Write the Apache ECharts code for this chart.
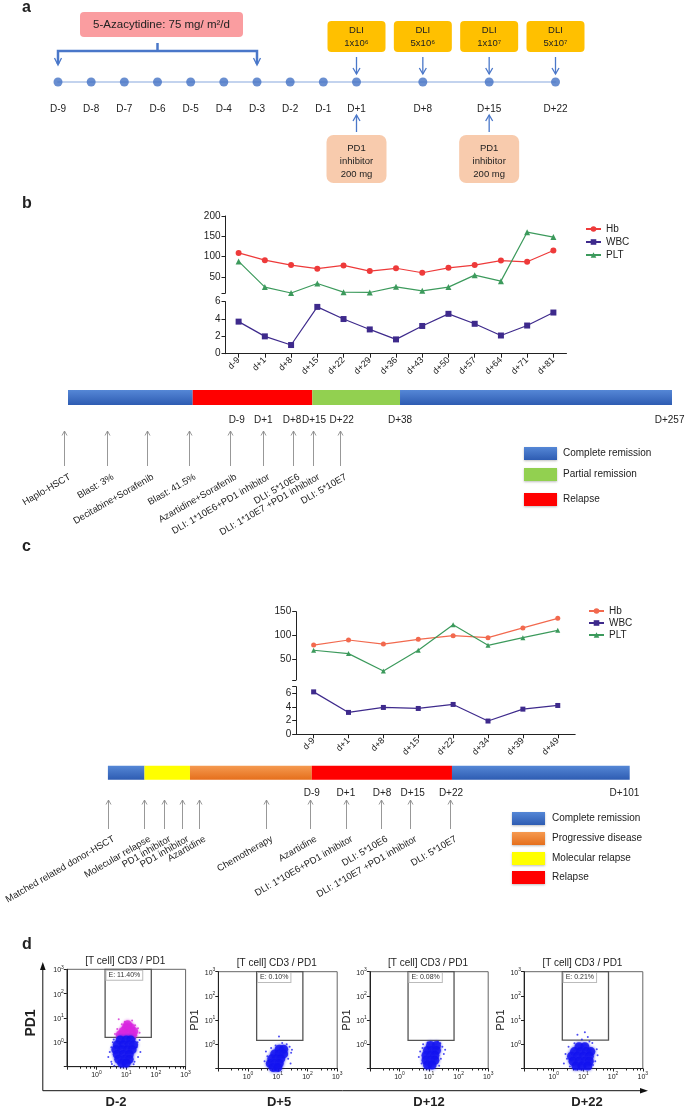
<!DOCTYPE html>
<html><head><meta charset="utf-8">
<script src="https://cdn.jsdelivr.net/npm/echarts@6/dist/echarts.min.js"></script>
<style>html,body{margin:0;padding:0;background:#fff}#c{width:685px;height:1107px}</style>
</head><body><div id="c"></div>
<script>
// ================= DATA =================
// panel a : schedule (spacer categories keep the drawn spacing)
const aDays = ['D-9','D-8','D-7','D-6','D-5','D-4','D-3','D-2','D-1','D+1',' ','D+8','  ','D+15','   ','D+22'];
const aDots = [0,0,0,0,0,0,0,0,0,0,'-',0,'-',0,'-',0];
const aAzaSpan = ['D-9','D-3'];
const aAzaText = '5-Azacytidine: 75 mg/ m²/d';
const aDLI = [['D+1','1x10⁶'],['D+8','5x10⁶'],['D+15','1x10⁷'],['D+22','5x10⁷']];
const aPD1 = ['D+1','D+15'];

// panel b : blood counts
const bDays = ['d-9','d+1','d+8','d+15','d+22','d+29','d+36','d+43','d+50','d+57','d+64','d+71','d+81'];
const bHb  = [109, 91, 79, 70, 78, 64, 71, 60, 72, 79, 90, 87, 115];
const bWBC = [3.7, 2.0, 1.0, 5.4, 4.0, 2.8, 1.65, 3.2, 4.6, 3.45, 2.1, 3.25, 4.75];
const bPLT = [88, 24.5, 10, 33.5, 12, 11.3, 25.3, 15.4, 24.5, 54, 39.3, 160, 148];
// panel b : disease course (schematic units, 0-100)
const bSegments = [['Complete remission',20.65],['Relapse',19.80],['Partial remission',14.52],['Complete remission',45.03]];
const bDates = [[27.93,'D-9'],[32.33,'D+1'],[37.09,'D+8'],[40.73,'D+15'],[45.31,'D+22'],[54.97,'D+38'],[99.6,'D+257']];
const bEvents = [[-0.61,'Haplo-HSCT'],[6.41,'Blast: 3%'],[13.08,'Decitabine+Sorafenib'],[19.98,'Blast: 41.5%'],[26.82,'Azartidine+Sorafenib'],[32.34,'DLI: 1*10E6+PD1 inhibitor'],[37.20,'DLI: 5*10E6'],[40.56,'DLI: 1*10E7 +PD1 inhibitor'],[45.03,'DLI: 5*10E7']];
const bStatusLegend = ['Complete remission','Partial remission','Relapse'];

// panel c : blood counts
const cDays = ['d-9','d+1','d+8','d+15','d+22','d+34','d+39','d+49'];
const cHb  = [80, 90.6, 82, 92, 99.6, 95.5, 116, 136];
const cWBC = [6.24, 3.22, 3.95, 3.8, 4.39, 1.95, 3.7, 4.24];
const cPLT = [69, 62, 25.5, 69, 122.7, 79.4, 95.5, 110.8];
// panel c : disease course
const cSegments = [['Complete remission',7.01],['Molecular relapse',8.72],['Progressive disease',23.34],['Relapse',26.87],['Complete remission',34.06]];
const cDates = [[39.08,'D-9'],[45.61,'D+1'],[52.53,'D+8'],[58.41,'D+15'],[65.75,'D+22'],[99.0,'D+101']];
const cEvents = [[0,'Matched related donor-HSCT'],[7.01,'Molecular relapse'],[10.79,'PD1 inhibitor'],[14.14,'PD1 inhibitor'],[17.40,'Azartidine'],[30.38,'Chemotherapy'],[38.66,'Azartidine'],[45.69,'DLI: 1*10E6+PD1 inhibitor'],[52.30,'DLI: 5*10E6'],[57.99,'DLI: 1*10E7 +PD1 inhibitor'],[65.52,'DLI: 5*10E7']];
const cStatusLegend = ['Complete remission','Progressive disease','Molecular relapse','Relapse'];

// panel d : flow cytometry (CD3 x, PD1 y)
const dTitles = ['[T cell] CD3 / PD1','[T cell] CD3 / PD1','[T cell] CD3 / PD1','[T cell] CD3 / PD1'];
const dDays = ['D-2','D+5','D+12','D+22'];
const dGateText = ['E: 11.40%','E: 0.10%','E: 0.08%','E: 0.21%'];
const dGate = [[1.95,70,1.6,1000],[1.95,70,1.45,1000],[1.95,70,1.45,1000],[1.95,70,1.5,1000]];
const dBlueCore = [
 [[6.3,1.26],[10,1.26],[14.1,1.26],[5,0.79],[7.9,0.79],[12.6,0.79],[17.8,0.79],[4.47,0.5],[7.1,0.5],[11.2,0.5],[15.8,0.5],[5,0.32],[7.9,0.32],[12.6,0.32],[5.6,0.2],[8.9,0.2],[12.6,0.2],[7.1,0.14],[10,0.14]],
 [[11.2,0.63],[15.8,0.63],[7.9,0.4],[11.2,0.4],[15.8,0.4],[6.3,0.25],[8.9,0.25],[12.6,0.25],[5.6,0.16],[7.9,0.16],[11.2,0.16],[7.1,0.11],[10,0.11]],
 [[11.2,0.89],[17.8,0.89],[8.9,0.56],[12.6,0.56],[17.8,0.56],[7.9,0.35],[11.2,0.35],[15.8,0.35],[7.9,0.22],[11.2,0.22],[15.8,0.22],[8.9,0.14],[12.6,0.14]],
 [[7.1,0.79],[11.2,0.79],[5,0.5],[7.9,0.5],[12.6,0.5],[17.8,0.5],[4,0.32],[6.3,0.32],[10,0.32],[15.8,0.32],[4.47,0.2],[7.1,0.2],[11.2,0.2],[15.8,0.2],[5.6,0.126],[8.9,0.126],[14.1,0.126]]
];
const dBlueSparse = [
 [[2.8,0.4],[3.16,0.16],[3.55,1.0],[22.4,0.63],[25.1,0.25],[20,1.41],[4.0,0.11],[17.8,0.126],[3.16,0.63],[28.2,1.26],[2.5,0.25],[3.8,1.3],[24,1.0],[30,0.4],[19,0.16],[3.3,0.13]],
 [[4.47,0.32],[25.1,0.79],[22.4,0.25],[5,0.126],[14.1,1.12],[4,0.5],[28.2,0.45],[11,2.1],[3.6,0.2],[20,1.0],[6,0.7],[27,0.16],[8.5,0.9],[30,0.6]],
 [[5,0.5],[28.2,0.79],[25.1,0.25],[5.6,0.16],[20,1.26],[6.3,1.0],[31.6,0.4],[4.5,0.3],[9,1.2],[24,1.1],[35,0.6],[22,0.13],[6,0.7]],
 [[2.5,0.4],[2.2,0.16],[28.2,0.63],[25.1,0.2],[8.9,1.58],[14.1,2.0],[3.16,0.79],[20,1.12],[6.3,2.5],[11.2,3.16],[2.8,0.25],[30,0.35],[5,1.1],[16,1.3],[21,0.14],[3.5,0.12]]
];
const dMagCore = [[6.3,2.0],[10,2.0],[15.8,2.0],[7.9,2.82],[12.6,2.82],[17.8,2.82],[10,4.0],[14.1,4.0],[11.2,5.25]];
const dMagSparse = [[5.6,8.9],[20,5.0],[5,3.55],[28.2,2.5],[15.8,7.9],[7.1,5.6],[4.2,2.2],[25,3.8],[9,7.0],[22,1.9]];

// ================= CHART =================
const FONT = '"Liberation Sans", Arial, Helvetica, sans-serif';
const INK = '#222';
const chart = echarts.init(document.getElementById('c'));
const LG = echarts.graphic.LinearGradient;
const statusColor = {
  'Complete remission': new LG(0,0,0,1,[{offset:0,color:'#5587D6'},{offset:1,color:'#2E5CB2'}]),
  'Partial remission': '#92D050',
  'Relapse': '#FF0000',
  'Progressive disease': new LG(0,0,0,1,[{offset:0,color:'#F59A50'},{offset:1,color:'#E56F1C'}]),
  'Molecular relapse': '#FFFF00'
};

const grids = [
  {left:58, right:129.5, top:70, height:24},
  {left:225.5, right:118.5, top:216, height:77},
  {left:225.5, right:118.5, top:301.7, height:52},
  {left:296.2, right:109.8, top:611.7, height:68.1},
  {left:296.2, right:109.8, top:686.7, height:47.6},
  {left:68, right:13, top:390, height:15},
  {left:107.9, right:55.3, top:765.7, height:14},
  {left:66.8, top:969.3, width:118.8, height:97.4, show:true, borderColor:'#666', borderWidth:1},
  {left:218.3, top:971.7, width:118.9, height:96.8, show:true, borderColor:'#666', borderWidth:1},
  {left:369.9, top:971.7, width:118.3, height:96.8, show:true, borderColor:'#666', borderWidth:1},
  {left:524, top:971.7, width:118.8, height:96.8, show:true, borderColor:'#666', borderWidth:1}
];

const supFmt = v => { const e = Math.round(Math.log10(v)); return e < 0 ? '' : '{b|10}{s|' + e + '}'; };
const supRich = {b:{fontSize:7, lineHeight:9, verticalAlign:'bottom', color:INK}, s:{fontSize:5, lineHeight:5, verticalAlign:'top', color:INK}};
const lineAxis = {show:true, lineStyle:{color:INK, width:1}};
const tickSt = {color:INK, width:1};

function catX(gi, data, showIt) {
  if (!showIt) return {gridIndex:gi, type:'category', data, show:false};
  return {gridIndex:gi, type:'category', data, axisLine:lineAxis,
    axisTick:{show:true, alignWithLabel:true, length:4, lineStyle:tickSt},
    axisLabel:{rotate:45, fontSize:9, color:INK, margin:5, interval:0, fontFamily:FONT}};
}
function valY(gi, min, max, labels, ticks) {
  return {gridIndex:gi, type:'value', min, max, axisLine:lineAxis,
    axisTick:{show:true, length:4, lineStyle:tickSt, customValues:ticks},
    axisLabel:{fontSize:10, color:INK, margin:5, fontFamily:FONT, customValues:labels},
    splitLine:{show:false}};
}
function logAx(gi, isY, name) {
  const a = {gridIndex:gi, type:'log', logBase:10, min:0.1, max:1000,
    axisLine:lineAxis, axisTick:{show:true, length:3, lineStyle:tickSt},
    minorTick:{show:!isY, length:2, lineStyle:tickSt},
    axisLabel:{margin:3, formatter:supFmt, rich:supRich, fontFamily:FONT},
    splitLine:{show:false}, minorSplitLine:{show:false}};
  if (name) { a.name = name; a.nameLocation = 'middle'; a.nameGap = 17; a.nameTextStyle = {fontSize:11, color:INK, fontFamily:FONT}; }
  return a;
}

const xAxis = [
  {gridIndex:0, type:'category', data:aDays, boundaryGap:false,
   axisLine:{show:true, lineStyle:{color:'#C3D3EE', width:2}}, axisTick:{show:false},
   axisLabel:{fontSize:10, color:INK, margin:10, interval:0, fontFamily:FONT}},
  catX(1, bDays, false), catX(2, bDays, true),
  catX(3, cDays, false), catX(4, cDays, true),
  {gridIndex:5, type:'value', min:0, max:100, show:false},
  {gridIndex:6, type:'value', min:0, max:100, show:false},
  logAx(7,false), logAx(8,false), logAx(9,false), logAx(10,false)
];
const yAxis = [
  {gridIndex:0, type:'value', min:-1, max:1, show:false},
  valY(1, 10, 200, [50,100,150,200], [10,50,100,150,200]),
  valY(2, 0, 6, [0,2,4,6], [0,2,4,6]),
  valY(3, 7, 150, [50,100,150], [7,50,100,150]),
  valY(4, 0, 7, [0,2,4,6], [0,2,4,6,7]),
  {gridIndex:5, type:'category', data:['b'], show:false},
  {gridIndex:6, type:'category', data:['c'], show:false},
  logAx(7,true), logAx(8,true,'PD1'), logAx(9,true,'PD1'), logAx(10,true,'PD1')
];

function lineSeries(name, data, xi, yi, color, symbol, size) {
  return {type:'line', name, data, xAxisIndex:xi, yAxisIndex:yi, symbol, symbolSize:size,
    lineStyle:{color, width:1.2}, itemStyle:{color}, silent:true};
}
const series = [
  {type:'scatter', data:aDots, xAxisIndex:0, yAxisIndex:0, symbolSize:9, itemStyle:{color:'#4472C4'}, silent:true},
  lineSeries('Hb', bHb, 1, 1, '#EE3A3A', 'circle', 6),
  lineSeries('PLT', bPLT, 1, 1, '#3C9A5C', 'triangle', 6),
  lineSeries('WBC', bWBC, 2, 2, '#3E2A8C', 'rect', 6),
  lineSeries('Hb ', cHb, 3, 3, '#F2694E', 'circle', 5),
  lineSeries('PLT ', cPLT, 3, 3, '#3C9A5C', 'triangle', 5),
  lineSeries('WBC ', cWBC, 4, 4, '#3E2A8C', 'rect', 5)
];
bSegments.forEach(s => series.push({type:'bar', stack:'bt', xAxisIndex:5, yAxisIndex:5, data:[s[1]], barWidth:15, itemStyle:{color:statusColor[s[0]]}, silent:true}));
cSegments.forEach(s => series.push({type:'bar', stack:'ct', xAxisIndex:6, yAxisIndex:6, data:[s[1]], barWidth:14, itemStyle:{color:statusColor[s[0]]}, silent:true}));

for (let k = 0; k < 4; k++) {
  const xi = 7 + k;
  const g = dGate[k];
  series.push({type:'scatter', xAxisIndex:xi, yAxisIndex:xi, data:dBlueSparse[k], symbolSize:2, itemStyle:{color:'#2020F0'}, silent:true,
    markArea:{silent:true, itemStyle:{color:'rgba(0,0,0,0)', borderColor:'#555', borderWidth:1.3},
      label:{show:true, position:'insideTopLeft', distance:2, formatter:dGateText[k], fontSize:7, color:'#333', fontFamily:FONT,
        backgroundColor:'#fff', borderColor:'#bbb', borderWidth:1, padding:[1,2]},
      data:[[{coord:[g[0], g[2]]},{coord:[g[1], g[3]]}]]}});
  if (k === 0) {
    series.push({type:'scatter', xAxisIndex:xi, yAxisIndex:xi, data:dMagSparse, symbolSize:2, itemStyle:{color:'#D62BD6'}, silent:true});
    series.push({type:'scatter', xAxisIndex:xi, yAxisIndex:xi, data:dMagCore, symbolSize:9, itemStyle:{color:'#D826E0', shadowBlur:3, shadowColor:'#D826E0'}, silent:true});
  }
  series.push({type:'scatter', xAxisIndex:xi, yAxisIndex:xi, data:dBlueCore[k], symbolSize:9, itemStyle:{color:'#1010F0', shadowBlur:3, shadowColor:'#2020F0'}, silent:true});
}

chart.setOption({
  animation:false, backgroundColor:'#fff', textStyle:{fontFamily:FONT},
  grid:grids, xAxis, yAxis, series,
  legend:[
    {data:['Hb','WBC','PLT'], orient:'vertical', left:580, top:218, itemWidth:15, itemHeight:7, itemGap:1,
     textStyle:{fontSize:10, color:INK, fontFamily:FONT, lineHeight:12}, selectedMode:false},
    {data:['Hb ','WBC ','PLT '], orient:'vertical', left:583, top:600, itemWidth:15, itemHeight:7, itemGap:0,
     formatter:n => n.trim(), textStyle:{fontSize:10, color:INK, fontFamily:FONT, lineHeight:12}, selectedMode:false}
  ]
});

// ================= ANNOTATIONS =================
const G = [];
const L = (x1,y1,x2,y2,c,w) => G.push({type:'line', silent:true, shape:{x1,y1,x2,y2}, style:{stroke:c, lineWidth:w}});
const PL = (pts,c,w) => G.push({type:'polyline', silent:true, shape:{points:pts}, style:{stroke:c, lineWidth:w, fill:null}});
const PG = (pts,c) => G.push({type:'polygon', silent:true, shape:{points:pts}, style:{fill:c}});
const T = (x,y,text,o) => { o = o || {}; G.push({type:'text', silent:true, x, y, rotation:o.rot||0,
  style:{text, fontSize:o.size||10, fontFamily:FONT, fontWeight:o.bold?'bold':'normal', fill:o.color||INK,
  align:o.align||'center', verticalAlign:o.va||'middle'}}); };
const R = (x,y,w,h,fill,r,extra) => G.push({type:'rect', silent:true, shape:{x,y,width:w,height:h,r:r||0}, style:Object.assign({fill}, extra||{})});
const X = (ai, v) => chart.convertToPixel({xAxisIndex:ai}, v);

// panel letters
T(22,16,'a',{bold:true,size:16,align:'left',va:'bottom'});
T(22,212,'b',{bold:true,size:16,align:'left',va:'bottom'});
T(22,555,'c',{bold:true,size:16,align:'left',va:'bottom'});
T(22,953,'d',{bold:true,size:16,align:'left',va:'bottom'});

// panel a
const BL = '#4A77C9';
R(80,12,163,25,'#FA9DA0',4);
T(161.5,24.5,aAzaText,{size:11.5});
const xa0 = X(0,aAzaSpan[0]), xa1 = X(0,aAzaSpan[1]), xm = (xa0+xa1)/2;
PL([[xa0,64],[xa0,51],[xa1,51],[xa1,64]],BL,2.5);
L(xm,43,xm,51,BL,2.5);
PL([[xa0-3.5,58],[xa0,65],[xa0+3.5,58]],BL,1.3);
PL([[xa1-3.5,58],[xa1,65],[xa1+3.5,58]],BL,1.3);
aDLI.forEach(d => {
  const x = X(0,d[0]);
  R(x-29,21,58,31,'#FFC000',4);
  T(x,30.5,'DLI',{size:9.5});
  T(x,43,d[1],{size:9.5});
  L(x,57,x,74,BL,1.3);
  PL([[x-3.5,68],[x,74],[x+3.5,68]],BL,1.3);
});
aPD1.forEach(d => {
  const x = X(0,d);
  L(x,132,x,115,BL,1.3);
  PL([[x-3.5,121],[x,115],[x+3.5,121]],BL,1.3);
  R(x-30,135,60,48,'#F8CBAD',7);
  T(x,148,'PD1',{size:9.5});
  T(x,161,'inhibitor',{size:9.5});
  T(x,174,'200 mg',{size:9.5});
});

// timelines
const ROT = 30*Math.PI/180;
function timeline(ai, dates, dateY, events, yTop, yBot, labY) {
  dates.forEach(d => T(X(ai,d[0]), dateY, d[1], {size:10}));
  events.forEach(e => {
    const x = Math.round(X(ai,e[0])) + 0.5;
    L(x,yBot,x,yTop,'#8c8c8c',0.9);
    PL([[x-2.5,yTop+4.5],[x,yTop],[x+2.5,yTop+4.5]],'#8c8c8c',0.9);
    T(x+3,labY,e[1],{size:9.5,align:'right',va:'top',rot:ROT});
  });
}
timeline(5, bDates, 420.7, bEvents, 431, 466, 472);
timeline(6, cDates, 793, cEvents, 800, 829, 834);

function statusLegend(items, x, tops, tx) {
  items.forEach((s,i) => {
    R(x,tops[i],33,13,statusColor[s],0,{shadowBlur:2, shadowColor:'rgba(0,0,0,0.25)', shadowOffsetY:1});
    T(tx,tops[i]+6.5,s,{size:10,align:'left'});
  });
}
statusLegend(bStatusLegend, 524, [447,468,493], 563);
statusLegend(cStatusLegend, 512, [812,832,852,871], 552);

// panel d
L(42.8,1090.7,42.8,968,'#111',1);
PG([[40,970],[42.8,962],[45.6,970]],'#111');
L(42.8,1090.7,642,1090.7,'#111',1);
PG([[640,1088],[648,1090.7],[640,1093.4]],'#111');
T(31,1023,'PD1',{bold:true,size:14,rot:Math.PI/2});
const dLabX = [116,279,429,587];
for (let k = 0; k < 4; k++) {
  const gr = grids[7+k];
  T(gr.left + gr.width/2 - 1, gr.top - 8, dTitles[k], {size:10});
  T(dLabX[k], 1102, dDays[k], {bold:true, size:13});
}
chart.setOption({graphic:G});
</script></body></html>
